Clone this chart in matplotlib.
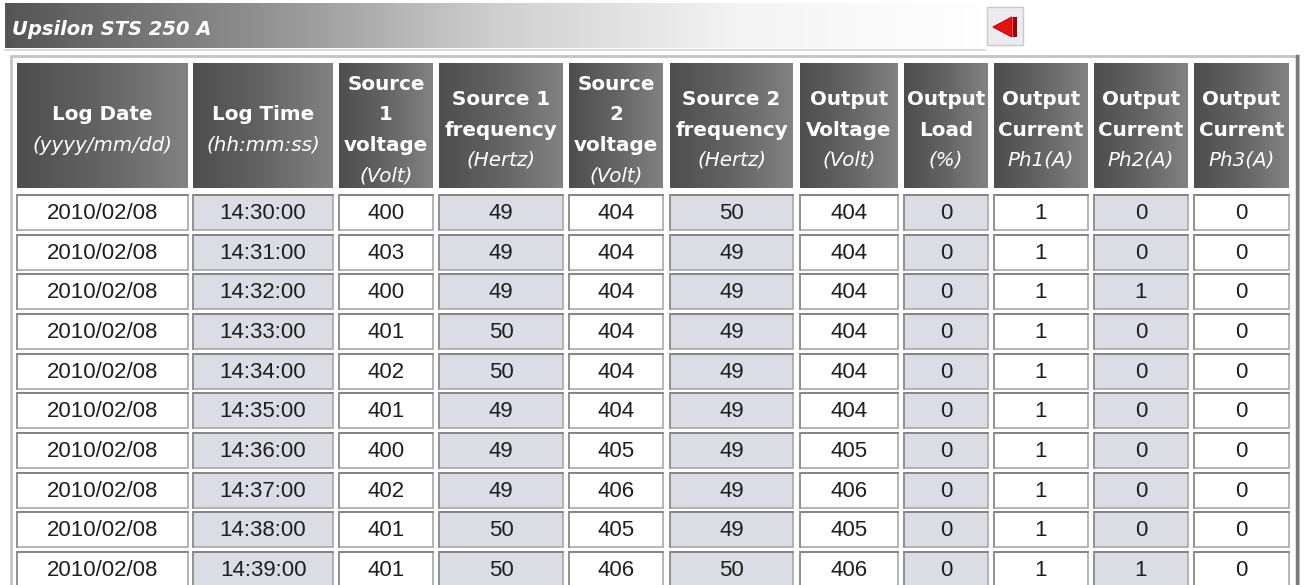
import numpy as np
import matplotlib.pyplot as plt
from matplotlib.patches import Rectangle, Polygon
from matplotlib.colors import LinearSegmentedColormap

#--- table content ---
title='Upsilon STS 250 A'
headers=[['Log Date','(yyyy/mm/dd)'],
         ['Log Time','(hh:mm:ss)'],
         ['Source','1','voltage','(Volt)'],
         ['Source 1','frequency','(Hertz)'],
         ['Source','2','voltage','(Volt)'],
         ['Source 2','frequency','(Hertz)'],
         ['Output','Voltage','(Volt)'],
         ['Output','Load','(%)'],
         ['Output','Current','Ph1(A)'],
         ['Output','Current','Ph2(A)'],
         ['Output','Current','Ph3(A)']]
log_date=['2010/02/08']*10
log_time=['14:30:00','14:31:00','14:32:00','14:33:00','14:34:00',
          '14:35:00','14:36:00','14:37:00','14:38:00','14:39:00']
src1_volt=[400,403,400,401,402,401,400,402,401,401]
src1_freq=[49,49,49,50,50,49,49,49,50,50]
src2_volt=[404,404,404,404,404,404,405,406,405,406]
src2_freq=[50,49,49,49,49,49,49,49,49,50]
out_volt=[404,404,404,404,404,404,405,406,405,406]
out_load=[0,0,0,0,0,0,0,0,0,0]
cur_ph1=[1,1,1,1,1,1,1,1,1,1]
cur_ph2=[0,0,1,0,0,0,0,0,0,1]
cur_ph3=[0,0,0,0,0,0,0,0,0,0]
columns=[log_date,log_time,src1_volt,src1_freq,src2_volt,src2_freq,
         out_volt,out_load,cur_ph1,cur_ph2,cur_ph3]

#--- layout (pixels) ---
W=1304; H=585
col_x=[(17,188),(193,333),(339,433),(439,563),(569,663),(670,793),
       (800,898),(904,988),(994,1088),(1094,1188),(1194,1289)]
hdr_y0=63; hdr_y1=188
row_y0=195; row_dy=39.67; row_h=35
line_dy=30.5; hdr_mid=128

fig=plt.figure(figsize=(W/100,H/100),dpi=100)
ax=fig.add_axes([0,0,1,1])
ax.axis('off')

#--- title bar ---
tcmap=LinearSegmentedColormap.from_list('t',['#555555','#8e8e8e','#cfcfcf','#f4f4f4','#ffffff'])
ax.imshow(np.linspace(0,1,256)[None,:],cmap=tcmap,extent=(5,985,48,3),aspect='auto',zorder=1)
ax.text(12,35,title,color='white',fontsize=14,fontweight='bold',fontstyle='italic',
        family='DejaVu Sans',va='baseline',zorder=3)
ax.plot([5,985],[50,50],color='#dcdcdc',lw=1.5,zorder=2)

# back arrow icon
ax.add_patch(Rectangle((987,7),36,38,fc='#ececf0',ec='#c8c8d0',lw=1,zorder=2))
ax.add_patch(Polygon([(993,27),(1012,17),(1012,37)],closed=True,fc='#e81010',ec='#c00000',lw=0.8,zorder=3))
ax.add_patch(Rectangle((1013,17),3.5,20,fc='#a00000',ec='none',zorder=3))

#--- table frame ---
ax.add_patch(Rectangle((11,56),1287,560,fc='white',ec='#c4c4c4',lw=2,zorder=1))
ax.plot([1297,1297],[56,585],color='#7a7a7a',lw=2.5,zorder=2)

#--- header cells ---
hcmap=LinearSegmentedColormap.from_list('h',['#4e4e4e','#646464','#828282'])
for (x0,x1),lines in zip(col_x,headers):
    ax.imshow(np.linspace(0,1,64)[None,:],cmap=hcmap,extent=(x0,x1,hdr_y1,hdr_y0),
              aspect='auto',zorder=2)
    n=len(lines)
    for i,s in enumerate(lines):
        yc=hdr_mid+(i-(n-1)/2.)*line_dy
        ital=s.startswith('(') or s.startswith('Ph')
        ax.text((x0+x1)/2.,yc+7.5,s,color='white',fontsize=14.3,family='DejaVu Sans',
                fontweight='normal' if ital else 'bold',
                fontstyle='italic' if ital else 'normal',
                ha='center',va='baseline',zorder=3)

#--- data cells ---
for j,((x0,x1),vals) in enumerate(zip(col_x,columns)):
    fc='#dcdce5' if j%2==1 else 'white'
    for i,v in enumerate(vals):
        y0=row_y0+i*row_dy
        ax.add_patch(Rectangle((x0,y0),x1-x0,row_h,fc=fc,ec='#a8a8a8',lw=1.2,zorder=2))
        ax.plot([x0,x1],[y0,y0],color='#7c7c7c',lw=1.2,zorder=2)
        ax.plot([x0,x0],[y0,y0+row_h],color='#8c8c8c',lw=1.2,zorder=2)
        ax.text((x0+x1)/2.,y0+row_h/2.+1,str(v),color='#1e1e1e',fontsize=16,
                family='Liberation Sans',ha='center',va='center',zorder=3)

ax.set_xlim(0,W); ax.set_ylim(H,0)
fig.savefig('out.png',dpi=100)
